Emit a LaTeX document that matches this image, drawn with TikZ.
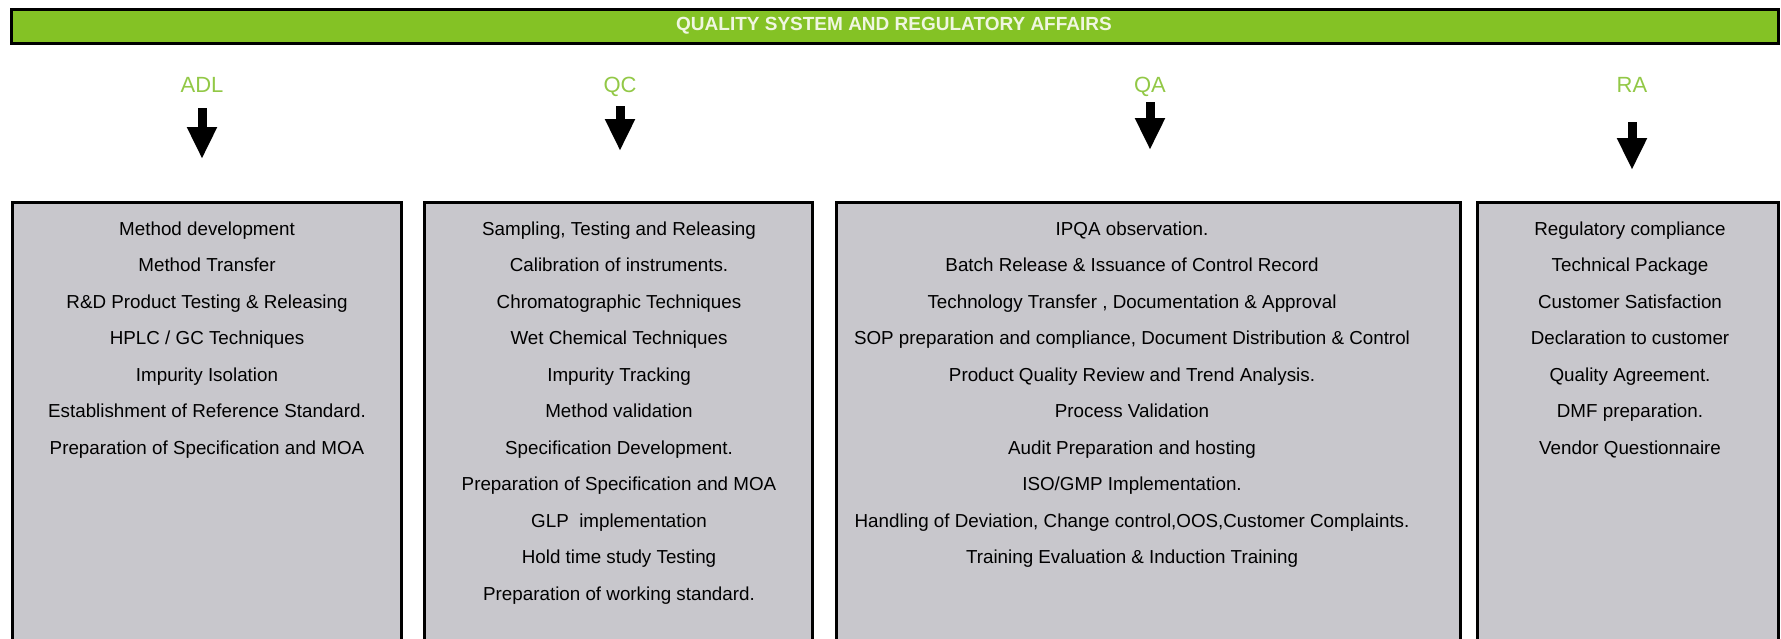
\documentclass[tikz,border=0pt]{standalone}
\usepackage{fontspec}
\setmainfont{Liberation Sans}
\usetikzlibrary{arrows.meta,positioning}
\definecolor{barGreen}{RGB}{132,194,37}
\definecolor{labGreen}{RGB}{146,200,70}
\definecolor{boxGray}{RGB}{200,199,204}
\definecolor{titleWhite}{RGB}{240,246,225}

\begin{document}
\begin{tikzpicture}[x=0.5pt, y=-0.5pt,
    every node/.style={inner sep=0pt, outer sep=0pt},
    banner/.style={draw, line width=1.5pt, fill=barGreen},
    panel/.style={draw, line width=1.5pt, fill=boxGray},
    dept/.style={anchor=base, text=labGreen, font=\fontsize{11}{13}\selectfont},
    duty/.style={anchor=base, font=\fontsize{9.4}{11}\selectfont},
    downarrow/.style={line width=4.5pt, -{Triangle[length=16pt, width=14pt]}}
    ]
    \useasboundingbox (0,0) rectangle (1781,638);
    \clip (0,0) rectangle (1781,638);
    \draw[banner] (11,9) rectangle (1778,43);
    \node[text=titleWhite, font=\bfseries\fontsize{9.5}{11}\selectfont] (title) at (894,26) {QUALITY SYSTEM AND REGULATORY AFFAIRS};
    % four columns
    \foreach \l/\r in {12/401, 424/812, 836/1460, 1477/1778}
        \draw[panel] (\l,202) rectangle (\r,700);
    \foreach \n/\x/\t/\b/\lab in {adl/202/108/159/ADL, qc/620/106/151/QC, qa/1150/102/150/QA, ra/1632/122/170/RA} {
        \node[dept] (\n) at (\x,92) {\lab};
        \coordinate (\n-top) at (\x,\t);
        \coordinate (\n-tip) at (\x,\b);
        \draw[downarrow] (\n-top) -- (\n-tip);
    }
    \foreach \txt [count=\i] in {Method development, Method Transfer,
        R\&D Product Testing \& Releasing, HPLC / GC Techniques, Impurity Isolation,
        Establishment of Reference Standard., Preparation of Specification and MOA}
        \node[duty] (adl-\i) at (207,{235+36.5*(\i-1)}) {\txt};
    \foreach \txt [count=\i] in {{Sampling, Testing and Releasing}, Calibration of instruments.,
        Chromatographic Techniques, Wet Chemical Techniques, Impurity Tracking,
        Method validation, Specification Development., Preparation of Specification and MOA,
        GLP~ implementation, Hold time study Testing, Preparation of working standard.}
        \node[duty] (qc-\i) at (619,{235+36.5*(\i-1)}) {\txt};
    \foreach \txt [count=\i] in {IPQA observation., Batch Release \& Issuance of Control Record,
        {Technology Transfer , Documentation \& Approval},
        {SOP preparation and compliance, Document Distribution \& Control},
        Product Quality Review and Trend Analysis., Process Validation,
        Audit Preparation and hosting, ISO/GMP Implementation.,
        {Handling of Deviation, Change control,OOS,Customer Complaints.},
        Training Evaluation \& Induction Training}
        \node[duty] (qa-\i) at (1132,{235+36.5*(\i-1)}) {\txt};
    \foreach \txt [count=\i] in {Regulatory compliance, Technical Package, Customer Satisfaction,
        Declaration to customer, Quality Agreement., DMF preparation., Vendor Questionnaire}
        \node[duty] (ra-\i) at (1630,{235+36.5*(\i-1)}) {\txt};
\end{tikzpicture}
\end{document}
